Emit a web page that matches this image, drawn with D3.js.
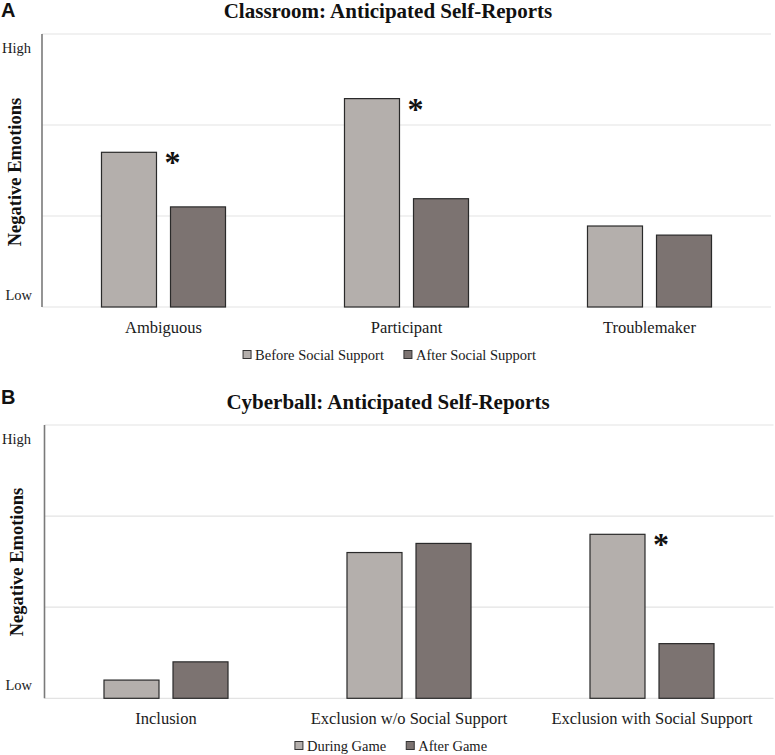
<!DOCTYPE html>
<html>
<head>
<meta charset="utf-8">
<script src="https://cdn.jsdelivr.net/npm/d3@7"></script>
<style>
  html, body { margin: 0; padding: 0; background: #fff; }
  svg { display: block; }
</style>
</head>
<body>
<svg id="chart" width="775" height="755"></svg>
<script>
// ---------- DATA ----------
const classroomCategories = ["Ambiguous", "Participant", "Troublemaker"];
const classroomSeries = ["Before Social Support", "After Social Support"];
const classroomBefore = [1.70, 2.29, 0.89];
const classroomAfter  = [1.10, 1.19, 0.79];
const classroomSignificant = [true, true, false];

const cyberballCategories = ["Inclusion", "Exclusion w/o Social Support", "Exclusion with Social Support"];
const cyberballSeries = ["During Game", "After Game"];
const cyberballDuring = [0.20, 1.60, 1.80];
const cyberballAfter  = [0.40, 1.70, 0.60];
const cyberballSignificant = [false, false, true];

const yTickValues = [0, 1, 2, 3];
const yEndLabels = ["Low", "High"];
const panelTitles = ["Classroom: Anticipated Self-Reports", "Cyberball: Anticipated Self-Reports"];
const panelLetters = ["A", "B"];
const yAxisTitle = "Negative Emotions";

// ---------- STYLE ----------
const colors = ["#b4afac", "#7c7371"];
const serif = "'Liberation Serif', 'Times New Roman', serif";
const sans = "'Liberation Sans', Arial, sans-serif";

const svg = d3.select("#chart");

function drawPanel(opt) {
  const g = svg.append("g");
  const y = d3.scaleLinear().domain([0, 3]).range([opt.bottom, opt.top]);
  const x0 = d3.scaleBand().domain(opt.categories).range([opt.left, opt.right]).padding(0);
  const x1 = d3.scaleBand().domain(opt.series).range([0, x0.bandwidth()])
    .paddingInner(0.203).paddingOuter(0.862);

  // gridlines
  g.append("g").selectAll("line").data(yTickValues).join("line")
    .attr("x1", opt.left).attr("x2", opt.right)
    .attr("y1", d => y(d)).attr("y2", d => y(d))
    .attr("stroke", "#e3e3e3").attr("stroke-width", 1.2);

  // left axis line
  g.append("line")
    .attr("x1", opt.left).attr("x2", opt.left)
    .attr("y1", y(3)).attr("y2", y(0))
    .attr("stroke", "#7a7a7a").attr("stroke-width", 1.6);

  // bars
  const rows = opt.categories.map((c, i) => ({
    cat: c, vals: [opt.values[0][i], opt.values[1][i]], sig: opt.sig[i]
  }));
  const grp = g.append("g").selectAll("g").data(rows).join("g")
    .attr("transform", d => `translate(${x0(d.cat)},0)`);
  grp.selectAll("rect").data(d => d.vals.map((v, k) => ({ s: opt.series[k], v, k }))).join("rect")
    .attr("x", d => x1(d.s))
    .attr("width", x1.bandwidth())
    .attr("y", d => y(d.v))
    .attr("height", d => y(0) - y(d.v))
    .attr("fill", d => colors[d.k])
    .attr("stroke", "#2a2a2a").attr("stroke-width", 1.2);

  // significance asterisks
  grp.filter(d => d.sig).append("text")
    .attr("x", x1(opt.series[0]) + x1.bandwidth() + 8)
    .attr("y", d => y(d.vals[0]) + 21)
    .attr("font-family", serif).attr("font-size", 32).attr("font-weight", "bold")
    .attr("fill", "#111")
    .text("*");

  // category labels
  g.append("g").selectAll("text").data(opt.categories).join("text")
    .attr("x", d => x0(d) + x0.bandwidth() / 2)
    .attr("y", opt.catBaseline)
    .attr("text-anchor", "middle")
    .attr("font-family", serif).attr("font-size", 16.5).attr("fill", "#1a1a1a")
    .text(d => d);

  // High / Low
  g.append("text").attr("x", 31).attr("y", opt.highBaseline)
    .attr("text-anchor", "end").attr("font-family", serif).attr("font-size", 14.5)
    .attr("fill", "#1a1a1a").text(yEndLabels[1]);
  g.append("text").attr("x", 32).attr("y", opt.lowBaseline)
    .attr("text-anchor", "end").attr("font-family", serif).attr("font-size", 14.5)
    .attr("fill", "#1a1a1a").text(yEndLabels[0]);

  // y axis title
  g.append("text")
    .attr("transform", `translate(${opt.yTitleX},${opt.yTitleY}) rotate(-90)`)
    .attr("text-anchor", "middle")
    .attr("font-family", serif).attr("font-weight", "bold").attr("font-size", 18.5)
    .attr("fill", "#111").text(yAxisTitle);

  // title
  g.append("text").attr("x", 388).attr("y", opt.titleBaseline)
    .attr("text-anchor", "middle")
    .attr("font-family", serif).attr("font-weight", "bold").attr("font-size", 21)
    .attr("fill", "#111").text(opt.title);

  // panel letter
  g.append("text").attr("x", 1).attr("y", opt.letterBaseline)
    .attr("font-family", sans).attr("font-weight", "bold").attr("font-size", 20)
    .attr("fill", "#111").text(opt.letter);

  // legend
  const leg = g.append("g");
  const items = leg.selectAll("g").data(opt.series).join("g");
  items.append("rect")
    .attr("width", 8).attr("height", 8)
    .attr("y", opt.legendBaseline - 9)
    .attr("fill", (d, i) => colors[i])
    .attr("stroke", "#333").attr("stroke-width", 1);
  items.append("text")
    .attr("x", 12).attr("y", opt.legendBaseline)
    .attr("font-family", serif).attr("font-size", 14.5).attr("fill", "#1a1a1a")
    .text(d => d);
  const widths = [];
  items.each(function () { widths.push(this.getBBox().width); });
  const gap = 20;
  const total = widths[0] + gap + widths[1];
  const start = opt.legendCenter - total / 2;
  items.attr("transform", (d, i) => {
    const tx = i === 0 ? start : start + widths[0] + gap;
    return `translate(${tx},0)`;
  });
}

drawPanel({
  categories: classroomCategories, series: classroomSeries,
  values: [classroomBefore, classroomAfter], sig: classroomSignificant,
  left: 42, right: 771, top: 34, bottom: 307,
  catBaseline: 333, highBaseline: 52.5, lowBaseline: 299.5,
  yTitleX: 21, yTitleY: 172, titleBaseline: 18, letterBaseline: 17,
  legendBaseline: 359.5, legendCenter: 389.5,
  title: panelTitles[0], letter: panelLetters[0]
});

drawPanel({
  categories: cyberballCategories, series: cyberballSeries,
  values: [cyberballDuring, cyberballAfter], sig: cyberballSignificant,
  left: 44.5, right: 773.5, top: 425, bottom: 698.3,
  catBaseline: 724, highBaseline: 443.5, lowBaseline: 690,
  yTitleX: 23, yTitleY: 562, titleBaseline: 408.5, letterBaseline: 404,
  legendBaseline: 750.5, legendCenter: 391,
  title: panelTitles[1], letter: panelLetters[1]
});
</script>
</body>
</html>
